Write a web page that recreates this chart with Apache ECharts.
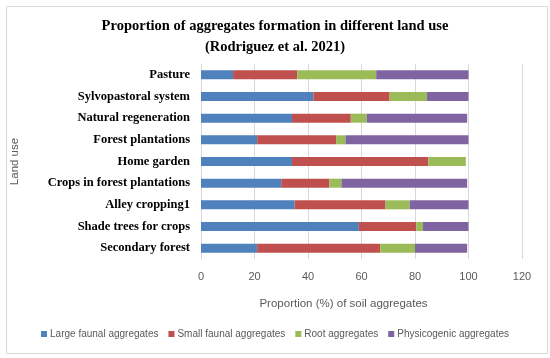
<!DOCTYPE html>
<html>
<head>
<meta charset="utf-8">
<script src="https://cdn.jsdelivr.net/npm/echarts@6/dist/echarts.min.js"></script>
<style>html,body{margin:0;padding:0;background:#fff;}#c{width:550px;height:358px;}</style>
</head>
<body>
<div id="c"></div>
<script>
var categories = ['Pasture','Sylvopastoral system','Natural regeneration','Forest plantations','Home garden','Crops in forest plantations','Alley cropping1','Shade trees for crops','Secondary forest'];
var largeFaunal = [12, 42, 34, 21, 34, 30, 35, 59, 21];
var smallFaunal = [24, 28.5, 22, 29.5, 51, 18, 34, 21.5, 46];
var rootAgg = [29.5, 14, 6, 3.5, 14, 4.5, 9, 2.5, 13];
var physicogenic = [34.5, 15.5, 37.5, 46, 0, 47, 22, 17, 19.5];
var xTicks = [0, 20, 40, 60, 80, 100, 120];
var seriesNames = ['Large faunal aggregates','Small faunal aggregates','Root aggregates','Physicogenic aggregates'];
var colors = ['#4F81BD','#C0504D','#9BBB59','#8064A2'];

var chart = echarts.init(document.getElementById('c'));
var sans = "'Liberation Sans',sans-serif";
var serif = "'Liberation Serif','DejaVu Serif',serif";
var dataSets = [largeFaunal, smallFaunal, rootAgg, physicogenic];
var series = dataSets.map(function(d, i){
  return {name: seriesNames[i], type:'bar', stack:'total', barWidth:9, data:d, itemStyle:{color:colors[i]}};
});
chart.setOption({
  animation:false,
  title:{text:'Proportion of aggregates formation in different land use\n(Rodriguez et al. 2021)', left:'center', top:11,
    textStyle:{fontFamily:serif, fontWeight:'bold', fontSize:14.5, lineHeight:21, color:'#000'}},
  legend:{bottom:14, left:'center', itemWidth:6, itemHeight:6, itemGap:10, icon:'rect',
    textStyle:{fontFamily:sans, fontSize:10, color:'#595959', padding:[0,0,0,-2]}, data:seriesNames},
  grid:{left:201, right:28, top:64, height:195},
  xAxis:{type:'value', min:0, max:120, interval:20,
    axisLine:{show:false}, axisTick:{show:false},
    splitLine:{lineStyle:{color:'#D9D9D9'}},
    axisLabel:{fontFamily:sans, fontSize:11, color:'#595959', margin:12},
    name:'Proportion (%) of soil aggregates', nameLocation:'middle', nameGap:39,
    nameTextStyle:{fontFamily:sans, fontSize:11.5, color:'#595959', padding:[0,36,0,0]}},
  yAxis:{type:'category', inverse:true, data:categories,
    axisLine:{lineStyle:{color:'#D9D9D9'}}, axisTick:{length:4, lineStyle:{color:'#D9D9D9'}},
    axisLabel:{fontFamily:serif, fontWeight:'bold', fontSize:12.5, color:'#000', margin:11},
    name:'Land use', nameLocation:'middle', nameGap:180, nameRotate:90,
    nameTextStyle:{fontFamily:sans, fontSize:11.5, color:'#595959'}},
  graphic:[{type:'rect', left:4, top:4, shape:{width:541, height:347}, style:{fill:'none', stroke:'#D9D9D9', lineWidth:1}}],
  series:series
});
</script>
</body>
</html>
